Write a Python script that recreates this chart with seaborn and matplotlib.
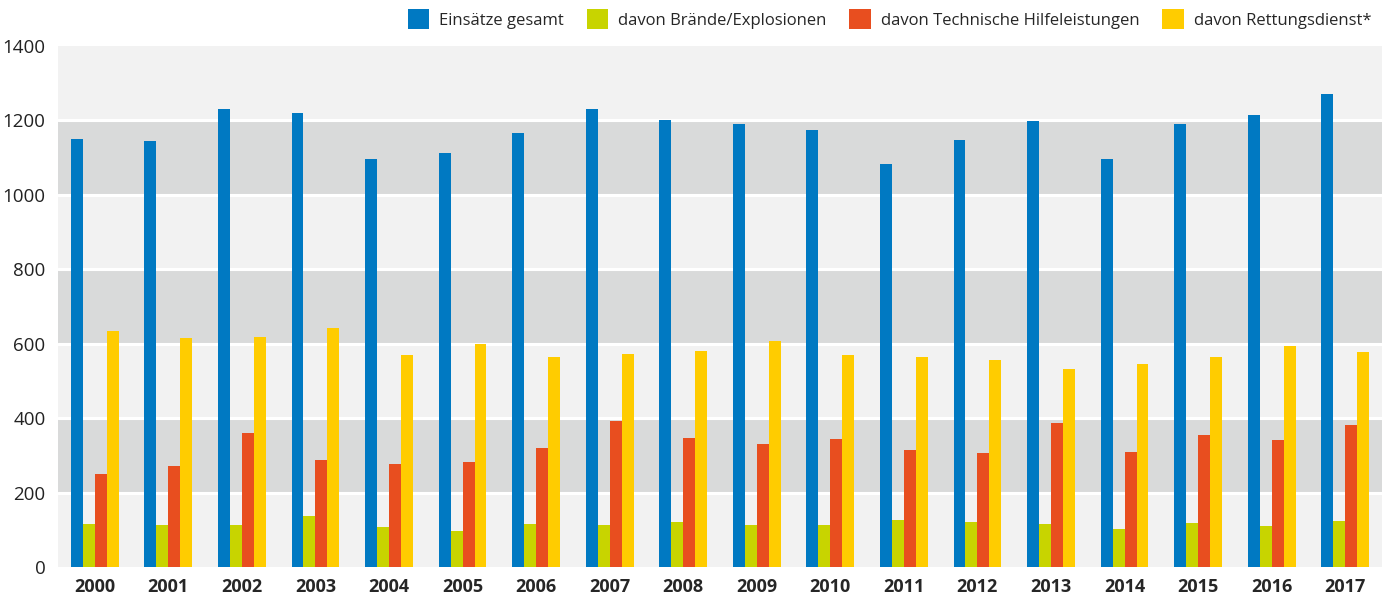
import numpy as np
import pandas as pd
import matplotlib.pyplot as plt
import seaborn as sns
from matplotlib.patches import Patch

years = [str(y) for y in range(2000, 2018)]
gesamt = [1149, 1144, 1230, 1219, 1096, 1112, 1166, 1230, 1200, 1190,
          1174, 1082, 1147, 1198, 1096, 1190, 1214, 1270]
braende = [116, 113, 113, 137, 108, 97, 116, 113, 121, 113,
           113, 127, 121, 116, 102, 118, 110, 124]
technisch = [250, 272, 361, 288, 277, 283, 320, 393, 347, 331,
             345, 315, 307, 388, 310, 355, 342, 382]
rettung = [635, 616, 619, 643, 571, 600, 565, 573, 581, 606,
           571, 563, 555, 533, 546, 565, 595, 579]

series = ['Einsätze gesamt', 'davon Brände/Explosionen',
          'davon Technische Hilfeleistungen', 'davon Rettungsdienst*']
colors = ['#0079c2', '#c8d400', '#e84e1f', '#ffcc00']

df = pd.DataFrame({'Jahr': years, series[0]: gesamt, series[1]: braende,
                   series[2]: technisch, series[3]: rettung})
long = df.melt(id_vars='Jahr', var_name='Serie', value_name='Wert')

sns.set_style('white')
plt.rcParams['font.family'] = ['Open Sans', 'DejaVu Sans']

W, H = 1397, 599
fig = plt.figure(figsize=(W / 100, H / 100), dpi=100)
ax = fig.add_axes([58 / W, 1 - 567 / H, (1382 - 58) / W, (567 - 46) / H])

# alternating background bands
for i, lo in enumerate(range(0, 1400, 200)):
    ax.axhspan(lo, lo + 200, color='#f2f2f2' if i % 2 == 0 else '#d9dada', zorder=0, lw=0)
for v in range(200, 1400, 200):
    ax.axhline(v, color='white', lw=2.2, zorder=0.5)

sns.barplot(data=long, x='Jahr', y='Wert', hue='Serie', palette=colors,
            saturation=1, width=0.65, ax=ax, legend=False, zorder=2,
            linewidth=0)

ax.set_xlim(-0.5, len(years) - 0.5)
ax.set_ylim(0, 1400)
ax.set_yticks(range(0, 1401, 200))
ax.set_xlabel('')
ax.set_ylabel('')
for s in ax.spines.values():
    s.set_visible(False)
ax.tick_params(axis='y', length=0, labelsize=13.5, labelcolor='#222222', pad=9)
ax.tick_params(axis='x', length=0, labelsize=13, pad=8)
for lbl in ax.get_xticklabels():
    lbl.set_fontweight('bold')

handles = [Patch(facecolor=c, edgecolor='none') for c in colors]
fig.legend(handles, series, loc='upper right', bbox_to_anchor=(1386 / W, 1.01),
           ncol=4, frameon=False, fontsize=12, handlelength=1.3, handleheight=1.5,
           handletextpad=0.6, columnspacing=1.35)

fig.savefig('out.png', dpi=100)
